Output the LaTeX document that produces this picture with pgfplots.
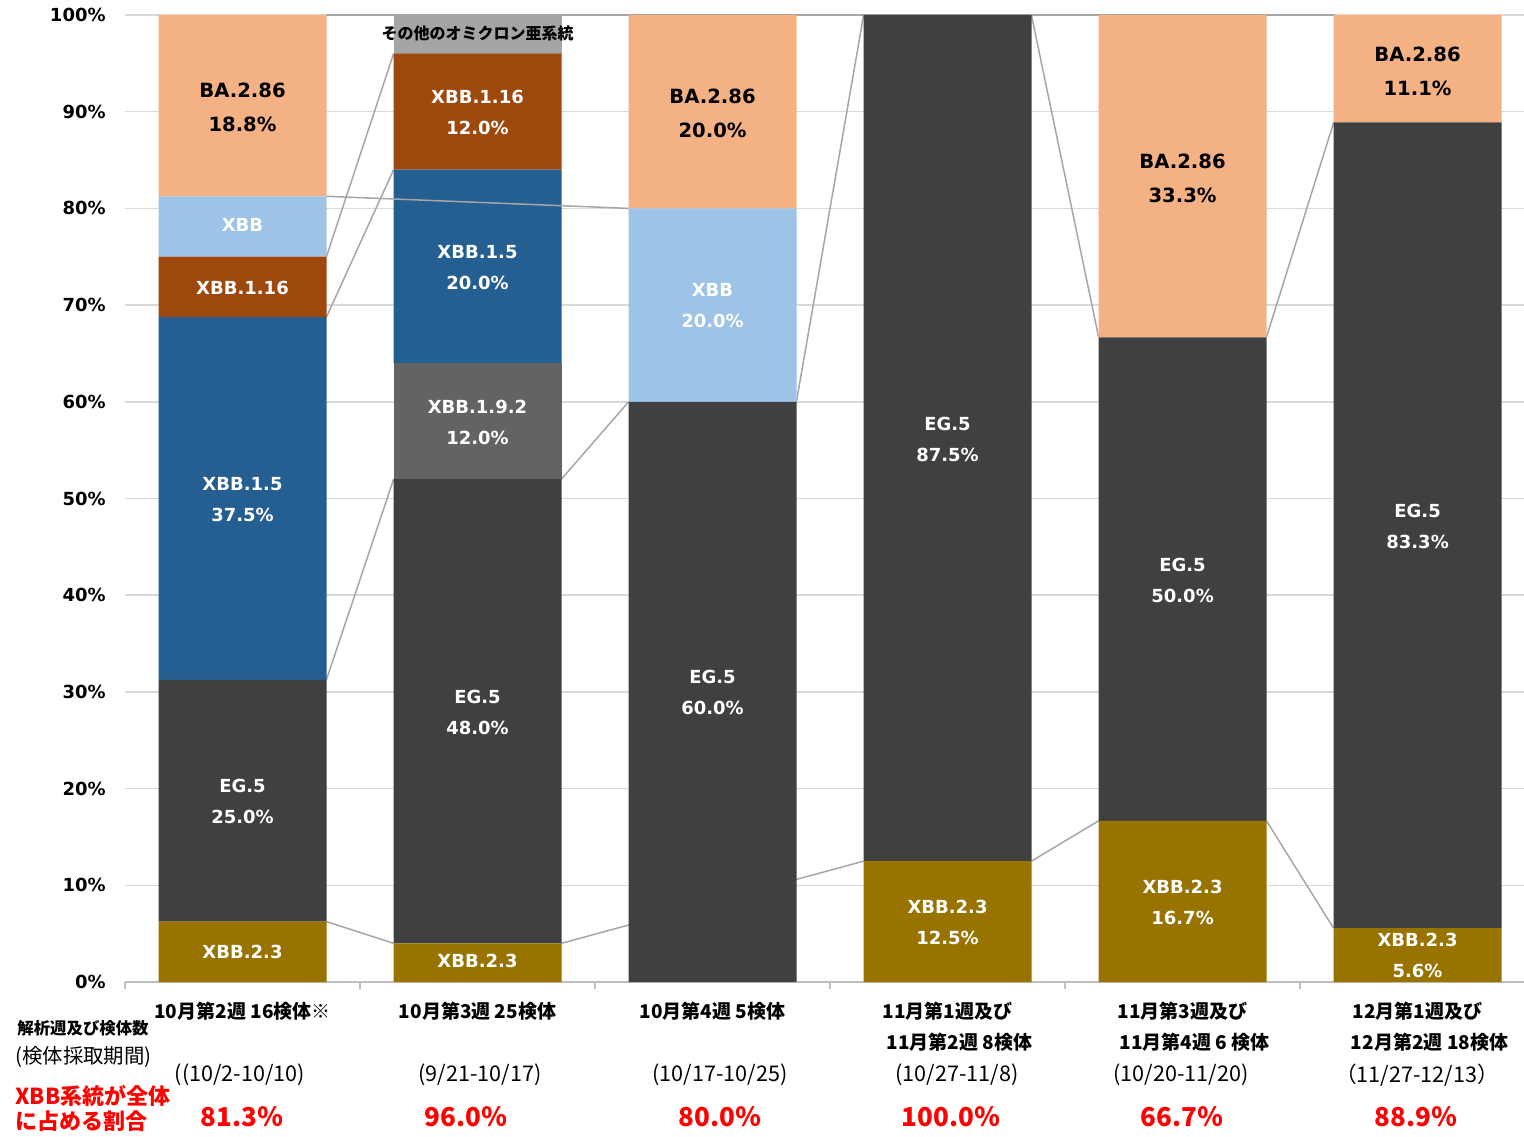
\documentclass[border=0pt]{standalone}
\usepackage{fontspec}
\setmainfont{DejaVu Sans}
\newfontfamily\jp{Noto Sans CJK JP}
\usepackage{pgfplots}
\usepackage{pgfplotstable}
\pgfplotsset{compat=1.18}

\definecolor{cXBBtt}{HTML}{997300}
\definecolor{cEG}{HTML}{404040}
\definecolor{cXBBone}{HTML}{636363}
\definecolor{cXBBfive}{HTML}{255E91}
\definecolor{cXBBsix}{HTML}{9E480E}
\definecolor{cXBB}{HTML}{9DC3E6}
\definecolor{cBA}{HTML}{F4B183}
\definecolor{cOther}{HTML}{A5A5A5}
\definecolor{gridgray}{HTML}{D9D9D9}
\definecolor{axgray}{HTML}{BFBFBF}
\definecolor{serline}{HTML}{A6A6A6}

% share of each lineage (%) per analysis week
\pgfplotstableread{
x XBB23 EG5   XBB192 XBB15 XBB116 XBB   BA286 other
0 6.25  25.0  0      37.5  6.25   6.25  18.75 0
1 4.0   48.0  12.0   20.0  12.0   0     0     4.0
2 0     60.0  0      0     0      20.0  20.0  0
3 12.5  87.5  0      0     0      0     0     0
4 16.67 50.0  0      0     0      0     33.33 0
5 5.56  83.33 0      0     0      0     11.11 0
}\shares

\pgfplotsset{
  chartbase/.style={
    scale only axis, width=699.5pt, height=483.5pt,
    xmin=-0.5, xmax=5.453, ymin=0, ymax=100,
    at={(62.5pt,77pt)}, anchor=south west, clip=false,
  },
  sline/.style={serline, line width=0.75pt, no marks},
}

\begin{document}
\begin{tikzpicture}[
  lbl/.style={font=\bfseries\fontsize{9}{15.5}\selectfont, align=center, text=white},
  lblk/.style={font=\bfseries\fontsize{9.8}{17}\selectfont, align=center, text=black},
]
\useasboundingbox (0,0) rectangle (762pt,568pt);

% grid, axes and series lines behind the bars
\begin{axis}[chartbase,
  axis x line=bottom, axis y line=left,
  x axis line style={-, draw=axgray, line width=0.75pt},
  y axis line style={draw=none},
  xtick={0,...,5},
  xticklabels={{10月第2週 16検体※},{10月第3週 25検体},{10月第4週 5検体},
    {11月第1週及び\\\hspace*{12pt}11月第2週 8検体},
    {11月第3週及び\\\hspace*{12pt}11月第4週 6 検体},
    {12月第1週及び\\\hspace*{12pt}12月第2週 18検体}},
  xticklabel style={font=\jp\bfseries\fontsize{9.5}{15.5}\selectfont, align=center,
    anchor=north, inner sep=0pt, yshift=-9.7pt},
  minor xtick={-0.5,0.5,1.5,2.5,3.5,4.5},
  minor x tick style={draw=axgray, line width=0.75pt},
  major tick length=0pt, minor tick length=3.5pt, tick align=outside,
  ytick={0,10,...,100},
  yticklabels={0\%,10\%,20\%,30\%,40\%,50\%,60\%,70\%,80\%,90\%,100\%},
  yticklabel style={font=\bfseries\fontsize{9}{10}\selectfont, inner sep=0pt, xshift=-9.5pt},
  ytick style={draw=none},
  ymajorgrids, grid style={gridgray, line width=0.75pt},
]
\addplot[sline] coordinates {(0.357,100) (4.643,100)};
\addplot[sline] coordinates {(0.357,75) (0.643,96)};
\addplot[sline] coordinates {(0.357,68.75) (0.643,84)};
\addplot[sline] coordinates {(0.357,31.25) (0.643,52)};
\addplot[sline] coordinates {(0.357,6.25) (0.643,4)};
\addplot[sline] coordinates {(1.357,52) (1.643,60)};
\addplot[sline] coordinates {(1.357,4) (2.643,12.5)};
\addplot[sline] coordinates {(2.357,60) (2.643,100)};
\addplot[sline] coordinates {(3.357,12.5) (3.643,16.67)};
\addplot[sline] coordinates {(3.357,100) (3.643,66.67)};
\addplot[sline] coordinates {(4.357,16.67) (4.643,5.56)};
\addplot[sline] coordinates {(4.357,66.67) (4.643,88.89)};
\end{axis}

% stacked bars
\begin{axis}[chartbase, hide axis, ybar stacked, bar width=84pt]
\addplot[fill=cXBBtt, draw=none] table[x=x, y=XBB23] {\shares};
\addplot[fill=cEG, draw=none] table[x=x, y=EG5] {\shares};
\addplot[fill=cXBBone, draw=none] table[x=x, y=XBB192] {\shares};
\addplot[fill=cXBBfive, draw=none] table[x=x, y=XBB15] {\shares};
\addplot[fill=cXBBsix, draw=none] table[x=x, y=XBB116] {\shares};
\addplot[fill=cXBB, draw=none] table[x=x, y=XBB] {\shares};
\addplot[fill=cBA, draw=none] table[x=x, y=BA286] {\shares};
\addplot[fill=cOther, draw=none] table[x=x, y=other] {\shares};
\end{axis}

% series line over the second bar, and the segment labels
\begin{axis}[chartbase, hide axis]
\addplot[sline] coordinates {(0.357,81.25) (1.643,80)};

\node[lblk] at (axis cs:0,90.4) {BA.2.86\\18.8\%};
\node[lbl] at (axis cs:0,78.3) {XBB};
\node[lbl] at (axis cs:0,71.8) {XBB.1.16};
\node[lbl] at (axis cs:0,49.9) {XBB.1.5\\37.5\%};
\node[lbl] at (axis cs:0,18.7) {EG.5\\25.0\%};
\node[lbl] at (axis cs:0,3.1) {XBB.2.3};

\node[font=\jp\bfseries\fontsize{8}{9}\selectfont, text=black] at (axis cs:1,98.1) {その他のオミクロン亜系統};
\node[lbl] at (axis cs:1,89.9) {XBB.1.16\\12.0\%};
\node[lbl] at (axis cs:1,73.9) {XBB.1.5\\20.0\%};
\node[lbl] at (axis cs:1,57.9) {XBB.1.9.2\\12.0\%};
\node[lbl] at (axis cs:1,27.9) {EG.5\\48.0\%};
\node[lbl] at (axis cs:1,2.2) {XBB.2.3};

\node[lblk] at (axis cs:2,89.8) {BA.2.86\\20.0\%};
\node[lbl] at (axis cs:2,69.9) {XBB\\20.0\%};
\node[lbl] at (axis cs:2,29.9) {EG.5\\60.0\%};

\node[lbl] at (axis cs:3,56.1) {EG.5\\87.5\%};
\node[lbl] at (axis cs:3,6.15) {XBB.2.3\\12.5\%};

\node[lblk] at (axis cs:4,83.1) {BA.2.86\\33.3\%};
\node[lbl] at (axis cs:4,41.5) {EG.5\\50.0\%};
\node[lbl] at (axis cs:4,8.2) {XBB.2.3\\16.7\%};

\node[lblk] at (axis cs:5,94.2) {BA.2.86\\11.1\%};
\node[lbl] at (axis cs:5,47.1) {EG.5\\83.3\%};
\node[lbl] at (axis cs:5,2.7) {XBB.2.3\\5.6\%};
\end{axis}

% row headings and values below the axis
\node[anchor=west, inner sep=0pt, font=\jp\bfseries\fontsize{8.2}{9}\selectfont] at (8.5pt,54pt) {解析週及び検体数};
\node[anchor=west, inner sep=0pt, font=\jp\fontsize{10.2}{11}\selectfont] at (7.5pt,39.5pt) {(検体採取期間)};
\node[anchor=west, inner sep=0pt, align=left, text=red, font=\jp\bfseries\fontsize{11}{12.5}\selectfont] at (7.5pt,13.8pt) {XBB系統が全体\\に占める割合};

\begin{scope}[every node/.style={font=\jp\fontsize{10.8}{12}\selectfont, inner sep=0pt}]
\node at (120pt,30.5pt) {((10/2-10/10)};
\node at (240pt,30.5pt) {(9/21-10/17)};
\node at (360pt,30.5pt) {(10/17-10/25)};
\node at (478.5pt,30.5pt) {(10/27-11/8)};
\node at (590.5pt,30.5pt) {(10/20-11/20)};
\node at (708.5pt,30.5pt) {（11/27-12/13）};
\end{scope}

\begin{scope}[every node/.style={font=\jp\bfseries\fontsize{13}{14}\selectfont, text=red, inner sep=0pt}]
\node at (121pt,9.5pt) {81.3％};
\node at (233pt,9.5pt) {96.0％};
\node at (360pt,9.5pt) {80.0％};
\node at (475.5pt,9.5pt) {100.0％};
\node at (591pt,9.5pt) {66.7％};
\node at (708pt,9.5pt) {88.9％};
\end{scope}
\end{tikzpicture}
\end{document}
